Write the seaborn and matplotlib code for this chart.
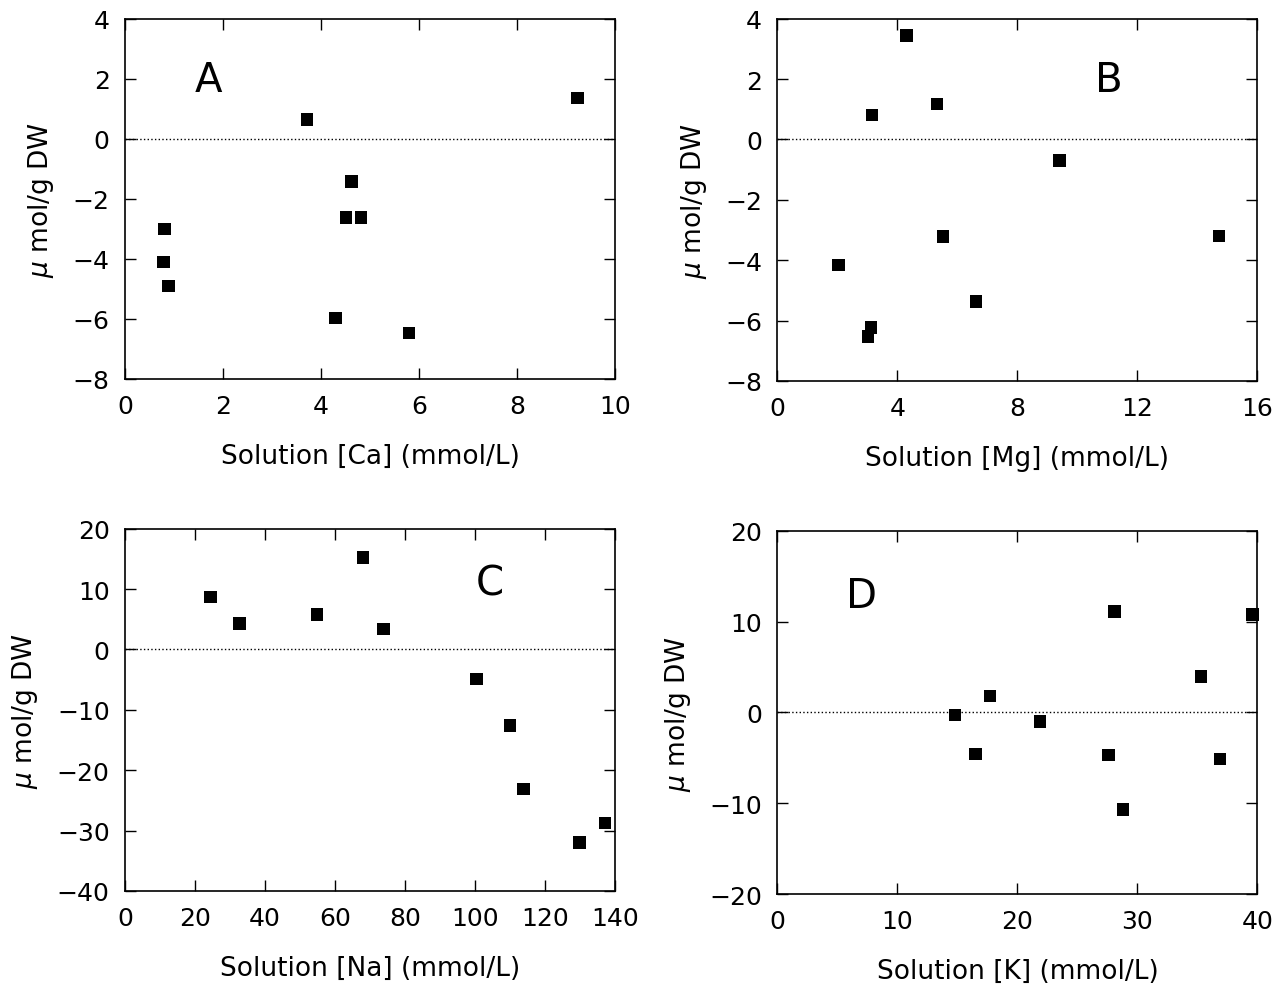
import pandas as pd
import matplotlib
matplotlib.use('Agg')
import matplotlib.pyplot as plt
import seaborn as sns

# panel A - Ca
ca_x = [0.81, 0.79, 0.89, 3.71, 4.62, 4.51, 4.82, 4.30, 5.80, 9.23]
ca_y = [-3.0, -4.11, -4.91, 0.65, -1.42, -2.62, -2.62, -5.96, -6.47, 1.36]
# panel B - Mg
mg_x = [4.30, 5.32, 3.15, 9.40, 5.52, 14.73, 2.03, 6.62, 3.12, 3.02]
mg_y = [3.44, 1.18, 0.82, -0.69, -3.22, -3.19, -4.16, -5.37, -6.23, -6.53]
# panel C - Na
na_x = [24.4, 32.7, 54.9, 68.0, 73.9, 100.4, 110.0, 113.9, 129.8, 137.2]
na_y = [8.7, 4.3, 5.8, 15.2, 3.4, -4.9, -12.6, -23.1, -32.0, -28.7]
# panel D - K
k_x = [14.8, 16.5, 17.7, 21.9, 27.6, 28.1, 28.8, 35.3, 36.9, 39.6]
k_y = [-0.3, -4.6, 1.8, -1.0, -4.7, 11.1, -10.7, 3.96, -5.1, 10.8]

sns.set_style('ticks')
plt.rcParams['font.family'] = ['DejaVu Sans']
plt.rcParams['text.color'] = 'black'
plt.rcParams['axes.labelcolor'] = 'black'
plt.rcParams['xtick.color'] = 'black'
plt.rcParams['ytick.color'] = 'black'

fig = plt.figure(figsize=(12.83, 9.87), dpi=100)

panels = [
    # x, y, letter, xlabel, xlim, xticks, ylim, yticks, rect, letter pos
    (ca_x, ca_y, 'A', 'Solution [Ca] (mmol/L)', (0, 10), [0, 2, 4, 6, 8, 10],
     (-8, 4), [-8, -6, -4, -2, 0, 2, 4], [0.0974, 0.615, 0.382, 0.365], (0.17, 0.83)),
    (mg_x, mg_y, 'B', 'Solution [Mg] (mmol/L)', (0, 16), [0, 4, 8, 12, 16],
     (-8, 4), [-8, -6, -4, -2, 0, 2, 4], [0.606, 0.613, 0.374, 0.367], (0.69, 0.83)),
    (na_x, na_y, 'C', 'Solution [Na] (mmol/L)', (0, 140), [0, 20, 40, 60, 80, 100, 120, 140],
     (-40, 20), [-40, -30, -20, -10, 0, 10, 20], [0.0974, 0.0963, 0.382, 0.367], (0.745, 0.85)),
    (k_x, k_y, 'D', 'Solution [K] (mmol/L)', (0, 40), [0, 10, 20, 30, 40],
     (-20, 20), [-20, -10, 0, 10, 20], [0.606, 0.0932, 0.374, 0.368], (0.175, 0.82)),
]

for xs, ys, letter, xlab, xlim, xticks, ylim, yticks, rect, lpos in panels:
    ax = fig.add_axes(rect)
    df = pd.DataFrame({'x': xs, 'y': ys})
    ax.axhline(0, color='black', ls=':', lw=1)
    sns.scatterplot(data=df, x='x', y='y', ax=ax, marker='s', s=80,
                    color='black', edgecolor='none', clip_on=False, zorder=3)
    ax.set_xlim(*xlim)
    ax.set_ylim(*ylim)
    ax.set_xticks(xticks)
    ax.set_yticks(yticks)
    ax.set_xticklabels([str(t).replace('-', '\u2212') for t in xticks])
    ax.set_yticklabels([str(t).replace('-', '\u2212') for t in yticks])
    ax.tick_params(direction='in', length=8, width=1, top=True, right=True,
                   labelsize=18, pad=11)
    for sp in ax.spines.values():
        sp.set_linewidth(1.2)
        sp.set_color('black')
    ax.set_xlabel(xlab, fontsize=19, labelpad=18)
    ax.set_ylabel(r'$\mu$ mol/g DW', fontsize=19, labelpad=12)
    ax.text(lpos[0], lpos[1], letter, transform=ax.transAxes, fontsize=29,
            ha='center', va='center')

fig.savefig('out.png', dpi=100)
